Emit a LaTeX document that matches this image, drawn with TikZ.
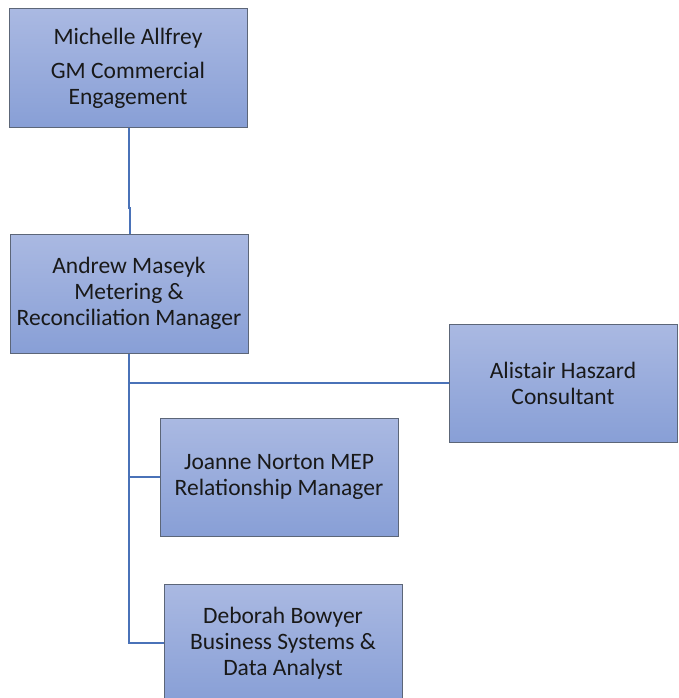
\documentclass[tikz,border=0pt]{standalone}
\usepackage{fontspec}
\setmainfont{Carlito}
\definecolor{boxtop}{HTML}{AAB9E2}
\definecolor{boxbot}{HTML}{889FD6}
\definecolor{boxedge}{HTML}{5C6678}
\definecolor{linkblue}{HTML}{4A72B8}
\begin{document}
\begin{tikzpicture}[x=1pt,y=-1pt,
  orgbox/.style={draw=boxedge, line width=1pt, top color=boxtop, bottom color=boxbot,
    align=center, inner sep=0pt, font=\fontsize{23.5}{26}\selectfont, text=black!90},
  link/.style={draw=linkblue, line width=2pt}]
\useasboundingbox (0,0) rectangle (678,698);
\begin{scope}
\clip (0,0) rectangle (678,698);
\node[orgbox, minimum width=238pt, minimum height=118pt] (m) at (128,68)
  {Michelle Allfrey\\[8pt]GM Commercial\\Engagement};
\node[orgbox, minimum width=238pt, minimum height=119pt] (a) at (129,293.5)
  {Andrew Maseyk\\Metering \&\\Reconciliation Manager};
\node[orgbox, minimum width=228pt, minimum height=118pt] (h) at (563,383)
  {Alistair Haszard\\Consultant};
\node[orgbox, minimum width=238pt, minimum height=118pt] (j) at (279,477)
  {Joanne Norton MEP\\Relationship Manager};
\node[orgbox, minimum width=238pt, minimum height=118pt] (d) at (283,643)
  {Deborah Bowyer\\Business Systems \&\\Data Analyst};
\coordinate (k1) at (129,208);
\coordinate (k2) at (130,208);
\draw[link] (m.south -| k1) -- (k1) -- (k2) -- (a.north -| k2);
\draw[link] (a.south) -- (a.south |- d.west) -- (d.west);
\draw[link] (a.south |- h.west) -- (h.west);
\draw[link] (a.south |- j.west) -- (j.west);
\end{scope}
\end{tikzpicture}
\end{document}
